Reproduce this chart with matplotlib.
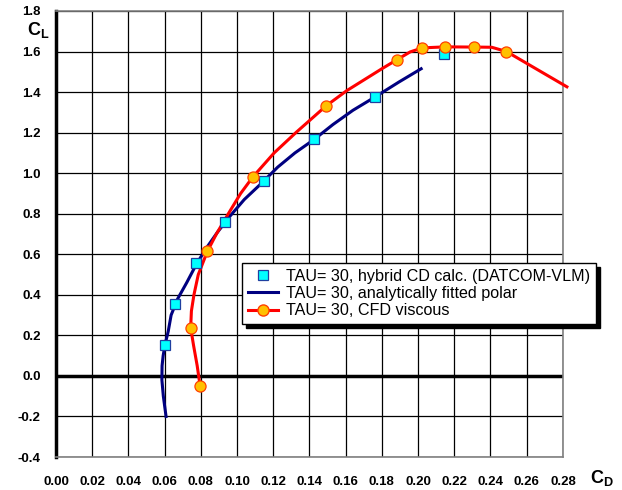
import matplotlib
matplotlib.use("Agg")
import matplotlib.pyplot as plt

plt.rcParams['font.family'] = ['Liberation Sans', 'DejaVu Sans']
plt.rcParams['mathtext.fontset'] = 'custom'
plt.rcParams['mathtext.rm'] = 'Liberation Sans'
plt.rcParams['mathtext.bf'] = 'Liberation Sans:bold'
plt.rcParams['mathtext.it'] = 'Liberation Sans:italic'

# hybrid CD calc (DATCOM-VLM) points
hyb_cd = [0.0602, 0.0658, 0.0772, 0.0935, 0.1151, 0.1427, 0.1761, 0.2145]
hyb_cl = [0.153, 0.354, 0.556, 0.760, 0.963, 1.167, 1.374, 1.589]

# analytically fitted polar
fit_cd = [0.0608, 0.0593, 0.0585, 0.0586, 0.0592, 0.0602, 0.0620, 0.0636, 0.0672,
          0.0722, 0.0775, 0.0830, 0.0893, 0.0963, 0.1040, 0.1135, 0.1225, 0.1320,
          0.1427, 0.1530, 0.1640, 0.1770, 0.1895, 0.2017]
fit_cl = [-0.20, -0.10, -0.02, 0.05, 0.10, 0.153, 0.22, 0.30, 0.38,
          0.46, 0.55, 0.63, 0.71, 0.79, 0.87, 0.95, 1.03, 1.10,
          1.167, 1.24, 1.31, 1.38, 1.45, 1.515]

# CFD viscous points
cfd_cd = [0.0796, 0.0744, 0.0836, 0.1087, 0.1492, 0.1884, 0.2024, 0.2151, 0.2311, 0.2488]
cfd_cl = [-0.049, 0.237, 0.614, 0.981, 1.332, 1.560, 1.618, 1.623, 1.622, 1.600]

# CFD viscous curve
cfd_line_cd = [0.0796, 0.0780, 0.0760, 0.0744, 0.0748, 0.0762, 0.0786, 0.0836, 0.0886,
               0.0952, 0.1020, 0.1087, 0.1205, 0.1325, 0.1492, 0.1606, 0.1800, 0.1884,
               0.1956, 0.2024, 0.2151, 0.2311, 0.2407, 0.2488, 0.2822]
cfd_line_cl = [-0.049, 0.05, 0.15, 0.237, 0.32, 0.40, 0.50, 0.614, 0.70,
               0.80, 0.90, 0.981, 1.10, 1.20, 1.332, 1.407, 1.515, 1.560,
               1.598, 1.618, 1.623, 1.622, 1.621, 1.600, 1.426]

x_ticks = [i * 0.02 for i in range(15)]
y_ticks = [-0.4 + i * 0.2 for i in range(12)]

fig = plt.figure(figsize=(6.22, 4.9), dpi=100)
ax = fig.add_axes([0.090, 0.0673, 0.815, 0.9103])

ax.set_xlim(0, 0.28)
ax.set_ylim(-0.4, 1.8)
ax.set_xticks(x_ticks)
ax.set_yticks(y_ticks)
ax.set_xticklabels(['%.2f' % v for v in x_ticks], fontweight='bold', fontsize=9.5)
ax.set_yticklabels(['%.1f' % v for v in y_ticks], fontweight='bold', fontsize=9.5)
ax.tick_params(length=0)
ax.tick_params(axis='x', pad=14)
ax.tick_params(axis='y', pad=11)
ax.grid(True, color='black', linewidth=0.9)
ax.axhline(0, color='black', linewidth=2.5, zorder=2)

for s in ['top', 'right', 'bottom']:
    ax.spines[s].set_color('#808080')
    ax.spines[s].set_linewidth(1.2)
ax.spines['left'].set_color('black')
ax.spines['left'].set_linewidth(2.5)

ax.plot(hyb_cd, hyb_cl, linestyle='none', marker='s', markersize=6.5,
        markerfacecolor='#00FFFF', markeredgecolor='#1F3F9F', markeredgewidth=0.9,
        zorder=5, label='TAU= 30, hybrid CD calc. (DATCOM-VLM)')
ax.plot(fit_cd, fit_cl, color='#000080', linewidth=2.2, zorder=4,
        label='TAU= 30, analytically fitted polar')
ax.plot(cfd_line_cd, cfd_line_cl, color='#FF0000', linewidth=2.2, zorder=4,
        clip_on=False)
ax.plot(cfd_cd, cfd_cl, linestyle='none', marker='o', markersize=8,
        markerfacecolor='#FFC000', markeredgecolor='#FF4000', markeredgewidth=0.9,
        zorder=6)
# legend proxy for CFD line + marker
ax.plot([], [], color='#FF0000', linewidth=2.2, marker='o', markersize=8,
        markerfacecolor='#FFC000', markeredgecolor='#FF4000',
        label='TAU= 30, CFD viscous')

leg = ax.legend(loc='upper left', bbox_to_anchor=(242 / 622, 1 - 263 / 490),
                bbox_transform=fig.transFigure, borderaxespad=0, fontsize=11.6,
                frameon=True, fancybox=False, edgecolor='black',
                shadow={'ox': 3, 'oy': -3, 'color': 'black', 'alpha': 1},
                framealpha=1, handlelength=1.9, handletextpad=0.5,
                labelspacing=0.15, borderpad=0.35)
leg.get_frame().set_linewidth(1.0)

fig.text(38 / 622, 1 - 30 / 490, r'$\mathbf{C_L}$', fontsize=13, ha='center', va='center')
fig.text(602 / 622, 1 - 478 / 490, r'$\mathbf{C_D}$', fontsize=13, ha='center', va='center')

fig.savefig('out.png', dpi=100)
